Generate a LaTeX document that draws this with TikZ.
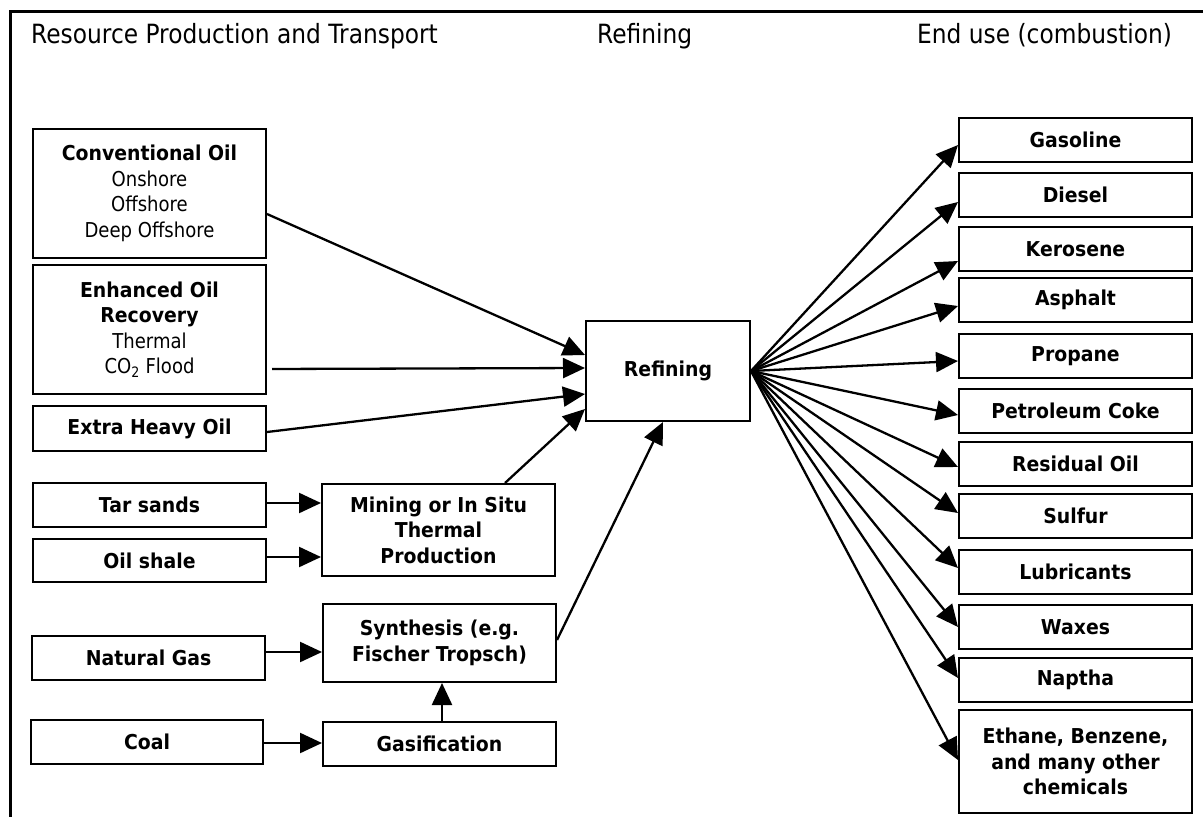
\documentclass[tikz,border=0pt]{standalone}
\usepackage{fontspec}
\setmainfont{DejaVu Sans}[FakeStretch=0.88]
\newfontfamily\myregf{DejaVu Sans}[FakeStretch=0.88]
\newfontfamily\myboldf{DejaVu Sans}[FakeStretch=0.92]
\usetikzlibrary{arrows.meta}
\newcommand\bxfont{\myboldf\bfseries\fontsize{20.5}{25.5}\selectfont}
\newcommand\rgfont{\myregf\mdseries\fontsize{20.5}{25.5}\selectfont}
\newcommand\ttlfont{\myregf\mdseries\fontsize{26.5}{30}\selectfont}
\tikzset{
  box/.style={draw, line width=2pt, minimum width=233pt, inner sep=0pt, align=center, font=\bxfont},
  arr/.style={line width=2.3pt, -{Triangle[length=22pt,width=20pt]}},
  ttl/.style={anchor=base west, inner sep=0pt, font=\ttlfont}
}
\begin{document}
\begin{tikzpicture}[x=1pt,y=-1pt]
\useasboundingbox (0,0) rectangle (1203,817);
\draw[line width=2.6pt] (10.5,817) -- (10.5,11.5) -- (1203,11.5);
% titles
\node[ttl] (t1) at (31,43) {Resource Production and Transport};
\node[ttl] (t2) at (597,43) {Refining};
\node[ttl] (t3) at (917,43) {End use (combustion)};
% left boxes
\node[box, minimum height=129pt] (conv) at (149.5,193.5) {Conventional Oil\\{\rgfont Onshore}\\{\rgfont Offshore}\\{\rgfont Deep Offshore}};
\node[box, minimum height=129pt] (eor) at (149.5,329.5) {Enhanced Oil\\Recovery\\{\rgfont Thermal}\\{\rgfont CO\textsubscript{2} Flood}};
\node[box, minimum height=45pt] (xho) at (149.5,428.5) {Extra Heavy Oil};
\node[box, minimum height=44pt] (tar) at (149.5,505) {Tar sands};
\node[box, minimum height=43pt] (shale) at (149.5,560.5) {Oil shale};
\node[box, minimum height=44pt] (ng) at (148.5,658) {Natural Gas};
\node[box, minimum height=44pt, minimum width=232pt] (coal) at (147,742) {Coal};
% middle boxes
\node[box, minimum height=92pt] (mine) at (438.5,530) {Mining or In Situ\\Thermal\\Production};
\node[box, minimum height=78pt] (syn) at (439.5,643) {Synthesis (e.g.\\Fischer Tropsch)};
\node[box, minimum height=44pt] (gasf) at (439.5,744) {Gasification};
\node[box, minimum height=100pt, minimum width=164pt] (ref) at (668,371) {Refining};
% right boxes
\node[box, minimum height=44pt] (gsl) at (1075.5,140) {Gasoline};
\node[box, minimum height=44pt] (dsl) at (1075.5,195) {Diesel};
\node[box, minimum height=44pt] (ker) at (1075.5,249) {Kerosene};
\node[box, minimum height=44pt] (asp) at (1075.5,300) {Asphalt};
\node[box, minimum height=44pt] (prp) at (1075.5,356) {Propane};
\node[box, minimum height=44pt] (cok) at (1075.5,411) {Petroleum Coke};
\node[box, minimum height=44pt] (res) at (1075.5,464) {Residual Oil};
\node[box, minimum height=44pt] (sul) at (1075.5,516) {Sulfur};
\node[box, minimum height=44pt] (lub) at (1075.5,572) {Lubricants};
\node[box, minimum height=44pt] (wax) at (1075.5,627) {Waxes};
\node[box, minimum height=44pt] (nap) at (1075.5,680) {Naptha};
\node[box, minimum height=103pt] (eth) at (1075.5,761.5) {Ethane, Benzene,\\and many other\\chemicals};
% inputs to refining
\draw[arr] (conv.east |- 0,214) -- (ref.west |- 0,355);
\draw[arr, shorten <=5pt] (eor.east |- 0,369) -- (ref.west |- 0,368);
\draw[arr] (xho.east |- 0,432) -- (ref.west |- 0,394);
\draw[arr] (mine.north -| 505,0) -- (ref.west |- 0,409);
\draw[arr] (syn.east |- 0,640) -- (ref.south -| 663,0);
\draw[arr] (tar.east |- 0,503) -- (mine.west |- 0,503);
\draw[arr] (shale.east |- 0,557) -- (mine.west |- 0,557);
\draw[arr] (ng.east |- 0,652) -- (syn.west |- 0,652);
\draw[arr] (coal.east |- 0,743) -- (gasf.west |- 0,743);
\draw[arr] (gasf.north -| 442,0) -- (syn.south -| 442,0);
% outputs
\draw[arr] (ref.east) -- (gsl.west |- 0,145);
\draw[arr] (ref.east) -- (dsl.west |- 0,202);
\draw[arr] (ref.east) -- (ker.west |- 0,261);
\draw[arr] (ref.east) -- (asp.west |- 0,306);
\draw[arr] (ref.east) -- (prp.west |- 0,361);
\draw[arr] (ref.east) -- (cok.west |- 0,415);
\draw[arr] (ref.east) -- (res.west |- 0,467);
\draw[arr] (ref.east) -- (sul.west |- 0,513);
\draw[arr] (ref.east) -- (lub.west |- 0,568);
\draw[arr] (ref.east) -- (wax.west |- 0,627);
\draw[arr] (ref.east) -- (nap.west |- 0,678);
\draw[arr] (ref.east) -- (eth.west |- 0,760);
\end{tikzpicture}
\end{document}
